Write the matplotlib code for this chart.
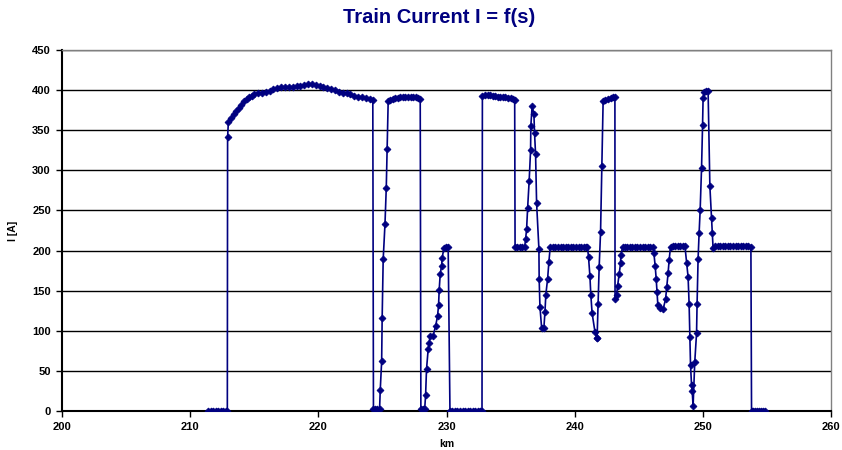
import matplotlib
matplotlib.use("Agg")
import matplotlib.pyplot as plt

# positions along the line (km) and train current (A)
km = [
    211.4, 211.6, 211.8, 212.0, 212.2, 212.4, 212.6, 212.8, 212.9,
    212.92, 212.98, 213.2, 213.4, 213.6, 213.8, 214.0, 214.2, 214.4, 214.6, 214.8,
    215.0, 215.3, 215.6, 215.9, 216.2, 216.5, 216.8, 217.1, 217.4, 217.7,
    218.0, 218.3, 218.6, 218.9, 219.2, 219.5, 219.8, 220.1, 220.4, 220.7,
    221.0, 221.3, 221.6, 221.9, 222.2, 222.5, 222.8, 223.1, 223.4, 223.7,
    224.0, 224.25,
    224.3, 224.45, 224.6, 224.78,
    224.83, 224.94, 224.98, 225.06, 225.2, 225.3, 225.37, 225.45,
    225.6, 225.8, 226.0, 226.2, 226.4, 226.6, 226.8, 227.0, 227.2, 227.4,
    227.6, 227.8, 227.95,
    228.0, 228.15, 228.3,
    228.37, 228.44, 228.57, 228.65, 228.71, 228.96, 229.15, 229.3, 229.38,
    229.43, 229.51, 229.62, 229.66, 229.8, 229.95, 230.13,
    230.27, 230.45, 230.65, 230.85, 231.05, 231.25, 231.45, 231.65, 231.85,
    232.05, 232.25, 232.45, 232.65, 232.77,
    232.8, 233.0, 233.2, 233.4, 233.6, 233.8, 234.0, 234.2, 234.4, 234.6,
    234.8, 235.0, 235.2, 235.32,
    235.35, 235.5, 235.7, 235.9, 236.1,
    236.17, 236.25, 236.33, 236.45, 236.56, 236.58, 236.68, 236.82, 236.87,
    236.95, 237.03, 237.21, 237.23, 237.29, 237.42, 237.6, 237.68, 237.75,
    237.89, 237.99, 238.09,
    238.3, 238.5, 238.7, 238.9, 239.1, 239.3, 239.5, 239.7, 239.9, 240.1,
    240.3, 240.5, 240.7, 240.9,
    241.0, 241.08, 241.19, 241.26, 241.36, 241.58, 241.73, 241.75, 241.83,
    241.91, 242.02, 242.12, 242.22, 242.4, 242.6, 242.8, 243.0, 243.14,
    243.15, 243.27, 243.35, 243.47, 243.58, 243.6, 243.74,
    243.9, 244.1, 244.3, 244.5, 244.7, 244.9, 245.1, 245.3, 245.5, 245.7,
    245.9, 246.1,
    246.18, 246.28, 246.36, 246.43, 246.49, 246.65, 246.9, 247.09, 247.19,
    247.29, 247.37, 247.48,
    247.65, 247.85, 248.05, 248.25, 248.45, 248.6,
    248.73, 248.85, 248.93, 248.99, 249.04, 249.12, 249.17, 249.24, 249.37,
    249.51, 249.55, 249.63, 249.71, 249.79, 249.9, 249.98, 250.02, 250.1,
    250.25, 250.41,
    250.55, 250.68, 250.75, 250.8,
    250.95, 251.15, 251.35, 251.55, 251.75, 251.95, 252.15, 252.35, 252.55,
    252.75, 252.95, 253.15, 253.35, 253.55, 253.75,
    253.8, 253.95, 254.1, 254.25, 254.4, 254.55, 254.7, 254.82,
]

current = [
    0, 0, 0, 0, 0, 0, 0, 0, 0,
    341, 360, 365, 370, 374, 378, 382, 386, 389, 391, 393,
    395, 396, 397, 398, 399, 401, 403, 404, 404, 404,
    404, 405, 405, 406, 407, 407, 406, 405, 404, 403,
    402, 400, 398, 397, 396, 395, 393, 392, 391, 390,
    389, 388,
    3, 3, 3, 3,
    26, 62, 116, 189, 233, 278, 327, 386,
    388, 389, 390, 390, 391, 391, 392, 392, 392, 391,
    391, 390, 389,
    3, 3, 3,
    20, 52, 77, 85, 93, 94, 106, 118, 132,
    151, 171, 181, 191, 203, 204, 204,
    0, 0, 0, 0, 0, 0, 0, 0, 0,
    0, 0, 0, 0, 0,
    393, 394, 394, 394, 393, 393, 392, 392, 391, 391,
    390, 390, 389, 388,
    205, 204, 204, 204, 205,
    214, 227, 253, 287, 325, 355, 380, 370, 346,
    320, 259, 202, 165, 130, 104, 104, 123, 145,
    165, 186, 204,
    204, 204, 204, 204, 204, 204, 204, 204, 204, 204,
    204, 204, 204, 204,
    204, 192, 168, 145, 122, 99, 91, 91, 134,
    179, 223, 305, 386, 388, 389, 390, 391, 391,
    140, 145, 156, 171, 184, 194, 204,
    205, 205, 205, 205, 205, 205, 205, 205, 205, 205,
    205, 205,
    197, 181, 165, 148, 132, 128, 127, 139, 155,
    172, 188, 205,
    206, 206, 206, 206, 206, 206,
    185, 167, 133, 92, 57, 32, 25, 6, 61,
    97, 133, 190, 222, 250, 303, 357, 390, 398,
    399, 399,
    280, 241, 222, 203,
    206, 206, 206, 206, 206, 206, 206, 206, 206,
    206, 206, 206, 206, 206, 205,
    0, 0, 0, 0, 0, 0, 0, 0,
]

y_ticks = [0, 50, 100, 150, 200, 250, 300, 350, 400, 450]
x_ticks = [200, 210, 220, 230, 240, 250, 260]

plt.rcParams['font.family'] = ['Liberation Sans', 'DejaVu Sans']

fig = plt.figure(figsize=(8.42, 4.5), dpi=100)
ax = fig.add_axes([62 / 842, 39 / 450, 769 / 842, 361 / 450])

ax.plot(km, current, color='#000080', linewidth=1.2, marker='D',
        markersize=3.5, markeredgewidth=0.6, zorder=3)

ax.set_xlim(200, 260)
ax.set_ylim(0, 450)
ax.set_xticks(x_ticks)
ax.set_yticks(y_ticks)
ax.yaxis.grid(True, color='black', linewidth=1.0)
ax.set_axisbelow(True)

for label in ax.get_xticklabels() + ax.get_yticklabels():
    label.set_fontweight('bold')
    label.set_fontsize(8)
ax.tick_params(direction='out', length=4, width=1, pad=4)

for side in ['left', 'bottom']:
    ax.spines[side].set_linewidth(1.5)
for side in ['top', 'right']:
    ax.spines[side].set_color('#808080')
    ax.spines[side].set_linewidth(1.0)

ax.set_xlabel("km", fontsize=7.5, fontweight='bold', labelpad=5)
ax.set_ylabel("I [A]", fontsize=7.5, fontweight='bold', labelpad=10)

fig.text(0.521, 0.962, "Train Current I = f(s)", ha='center', va='center',
         fontsize=14.5, fontweight='bold', color='#000080')

fig.savefig("out.png", dpi=100)
plt.close(fig)
